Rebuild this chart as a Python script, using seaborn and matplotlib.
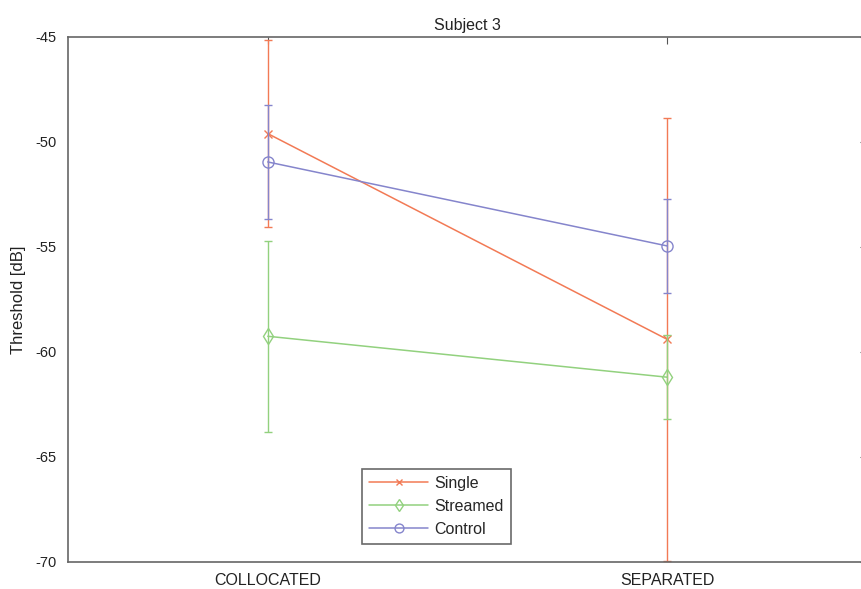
import matplotlib
matplotlib.use("Agg")
import matplotlib.pyplot as plt
import seaborn as sns
import pandas as pd
import numpy as np

conditions = ["COLLOCATED", "SEPARATED"]
x_pos = [1, 2]
series_names = ["Single", "Streamed", "Control"]
single_mean = [-49.6, -59.4]
single_err = [4.45, 10.55]
streamed_mean = [-59.25, -61.2]
streamed_err = [4.55, 2.0]
control_mean = [-50.95, -54.95]
control_err = [2.7, 2.25]
y_ticks = [-70, -65, -60, -55, -50, -45]

sns.set_style("white")
plt.rcParams["font.family"] = ["Liberation Sans", "DejaVu Sans"]
plt.rcParams["xtick.direction"] = "in"
plt.rcParams["ytick.direction"] = "in"

W, H = 861, 589
fig = plt.figure(figsize=(W / 100, H / 100), dpi=100)
ax = fig.add_axes([68 / W, (H - 562) / H, 799 / W, 525 / H])

colors = {"Single": "#f27a55", "Streamed": "#92d17e", "Control": "#8585cc"}
markers = {"Single": "x", "Streamed": "d", "Control": "o"}
means = {"Single": single_mean, "Streamed": streamed_mean, "Control": control_mean}
errs = {"Single": single_err, "Streamed": streamed_err, "Control": control_err}

for name in series_names:
    df = pd.DataFrame({"x": x_pos, "y": means[name]})
    c = colors[name]
    sns.lineplot(data=df, x="x", y="y", ax=ax, color=c, lw=1.1,
                 marker=markers[name], markersize=8 if name != "Single" else 6,
                 markerfacecolor="none", markeredgecolor=c, markeredgewidth=1.0,
                 label=name)
    ax.errorbar(x_pos, means[name], yerr=errs[name], fmt="none", ecolor=c,
                elinewidth=1.0, capsize=3, capthick=1.0, clip_on=True)

ax.set_xlim(0.5, 2.5)
ax.set_ylim(-70, -45)
ax.set_xticks(x_pos)
ax.set_xticklabels(conditions, fontsize=11.5)
ax.set_yticks(y_ticks)
ax.set_yticklabels([str(v) for v in y_ticks], fontsize=10.5)
ax.set_xlabel("")
ax.set_ylabel("Threshold [dB]", fontsize=12, color="#222222", labelpad=7)
ax.set_title("Subject 3", fontsize=11.5, color="#222222", pad=5)
ax.tick_params(axis="both", colors="#555555", labelcolor="#222222",
               length=5, width=0.8, top=True, right=True, pad=8)
for s in ax.spines.values():
    s.set_color("#666666")
    s.set_linewidth(1.2)

leg = ax.legend(loc="lower left", bbox_to_anchor=(0.368, 0.034), borderaxespad=0,
                fontsize=11.5, frameon=True, fancybox=False, edgecolor="#444444",
                handlelength=3.7, handletextpad=0.4, borderpad=0.45, labelspacing=0.5,
                markerscale=0.8)
leg.get_frame().set_linewidth(1.2)

fig.savefig("out.png", dpi=100, facecolor="white")
